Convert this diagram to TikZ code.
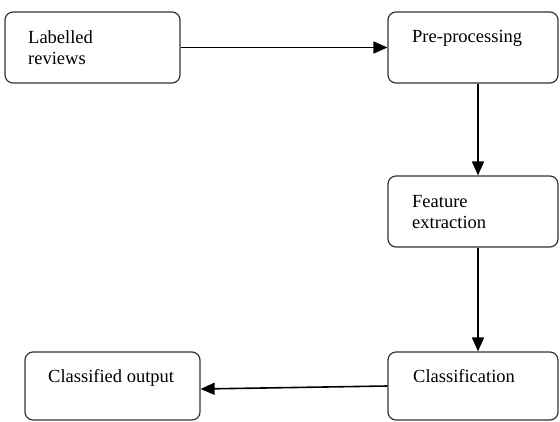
\documentclass[tikz,border=0pt]{standalone}
\usepackage{fontspec}
\setmainfont{Liberation Serif}
\usetikzlibrary{arrows.meta}

\tikzset{
  caja/.style={draw=black!80, line width=1.2pt, rounded corners=8pt, inner sep=0pt},
  flecha/.style={line width=1.6pt, -{Triangle[length=14pt,width=12pt]}},
  texto/.style={anchor=base west, inner sep=0pt, align=left,
    font=\fontsize{18.5}{21}\selectfont}
}

\begin{document}
\begin{tikzpicture}[x=1pt,y=-1pt]
    \useasboundingbox (0,0) rectangle (560,421);

    % Cajas
    \node[caja, minimum width=175pt, minimum height=71pt] (rev) at (92.5,47.5) {};
    \node[caja, minimum width=170pt, minimum height=71pt] (pre) at (473,47.5) {};
    \node[caja, minimum width=170pt, minimum height=71pt] (feat) at (473,211.5) {};
    \node[caja, minimum width=170pt, minimum height=68pt] (cls) at (473,386) {};
    \node[caja, minimum width=175pt, minimum height=68pt] (out) at (112.5,386) {};

    % Textos de las cajas (base = ultima linea)
    \node[texto] (trev) at (28,64) {Labelled\\reviews};
    \node[texto] (tpre) at (412,42) {Pre-processing};
    \node[texto] (tfeat) at (412,228) {Feature\\extraction};
    \node[texto] (tcls) at (413,382) {Classification};
    \node[texto] (tout) at (48,382) {Classified output};

    % Flechas
    \draw[flecha] (rev.east) -- (pre.west);
    \draw[flecha] (pre.south -| 478,0) -- (feat.north -| 478,0);
    \draw[flecha] (feat.south -| 478,0) -- (cls.north -| 478,0);
    \draw[flecha] (cls.west) -- ([yshift=-3pt]out.east);
\end{tikzpicture}
\end{document}
